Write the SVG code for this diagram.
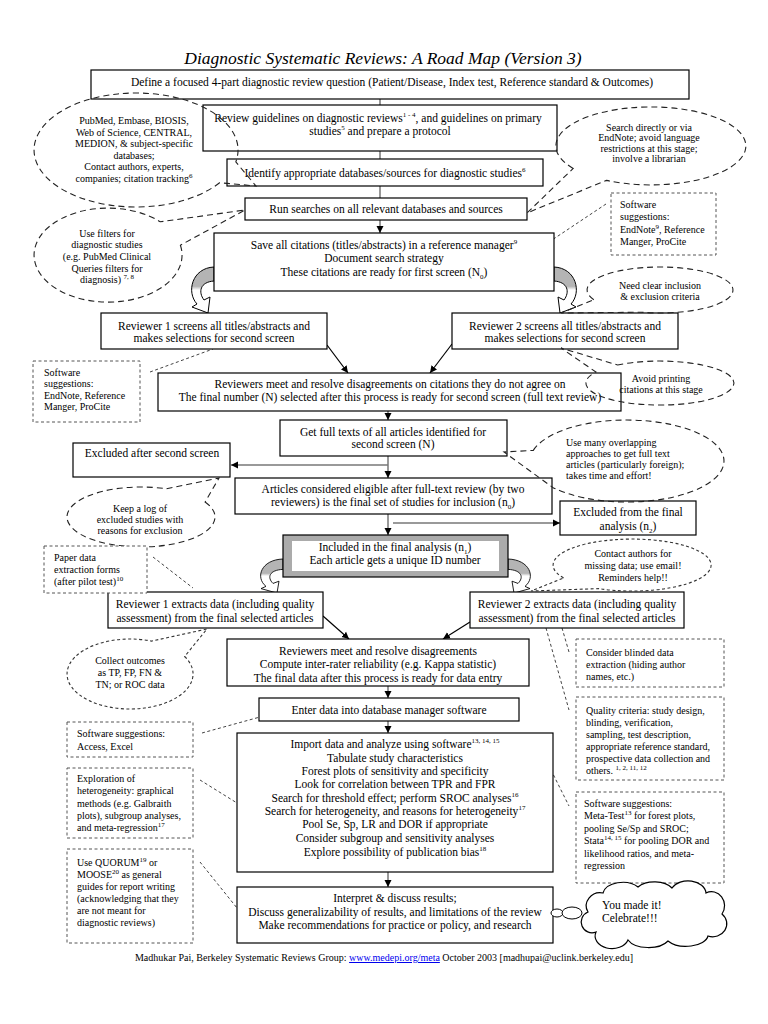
<svg xmlns="http://www.w3.org/2000/svg" width="768" height="1024" viewBox="0 0 768 1024">
<style>
text{font-family:"Liberation Serif","Times New Roman",serif;fill:#000}
.t{font-size:11.5px;text-anchor:middle}
.s{font-size:10px;text-anchor:middle}
.sl{font-size:10px;text-anchor:start}
.box{fill:#fff;stroke:#000;stroke-width:1.2}
.co{fill:none;stroke:#222;stroke-width:1.1;stroke-dasharray:6 4}
.cod{fill:none;stroke:#333;stroke-width:1.1;stroke-dasharray:3 2.5}
.db{fill:#fff;stroke:#555;stroke-width:1;stroke-dasharray:3 2.5}
.dl{fill:none;stroke:#444;stroke-width:1;stroke-dasharray:3 2.5}
.cn{fill:none;stroke:#777;stroke-width:1.5}
.cb{fill:none;stroke:#000;stroke-width:1.2}
.sup{font-size:7px}
</style>
<defs>
<marker id="ah" markerWidth="8" markerHeight="8" refX="7" refY="4" orient="auto" markerUnits="userSpaceOnUse"><path d="M0,0.5 L7,4 L0,7.5 z" fill="#000"/></marker>
<linearGradient id="curlg" x1="0" y1="0" x2="0" y2="1"><stop offset="0" stop-color="#b4b4b4"/><stop offset="0.42" stop-color="#b4b4b4"/><stop offset="0.5" stop-color="#fff"/><stop offset="1" stop-color="#fff"/></linearGradient>
<path id="curl" d="M0 0 C-22 1 -28 25 -17 37 L-22 40 L-6 46 L-4 30 L-10 33 C-16 25 -14 15 0 14 Z" fill="url(#curlg)" stroke="#000" stroke-width="1"/>
</defs>
<rect width="768" height="1024" fill="#fff"/>
<text x="383" y="64" font-size="17.5" font-style="italic" text-anchor="middle">Diagnostic Systematic Reviews: A Road Map (Version 3)</text>

<g id="connectors">
<path class="cn" d="M380 99 V105 M380 151 V159 M380 186 V198"/>
<path class="cn" d="M380 220 V233" marker-end="url(#ah)"/>
<path class="cb" d="M327 345 L348 373" marker-end="url(#ah)"/>
<path class="cb" d="M452 344 L430 373" marker-end="url(#ah)"/>
<path class="cn" d="M388 411 V420" marker-end="url(#ah)"/>
<path class="cn" d="M388 456 V478" marker-end="url(#ah)"/>
<path class="cn" d="M388 465 H231" marker-end="url(#ah)"/>
<path class="cn" d="M388 514 V535" marker-end="url(#ah)"/>
<path class="cn" d="M393 523 H560" marker-end="url(#ah)"/>
<path class="cb" d="M323 616 L349 639" marker-end="url(#ah)"/>
<path class="cb" d="M470 622 L443 639" marker-end="url(#ah)"/>
<path class="cn" d="M388 686 V698" marker-end="url(#ah)"/>
<path class="cn" d="M388 721 V733" marker-end="url(#ah)"/>
<path class="cn" d="M388 872 V887" marker-end="url(#ah)"/>
<use href="#curl" transform="translate(214,267)"/>
<use href="#curl" transform="translate(554,267) scale(-1,1)"/>
<use href="#curl" transform="translate(283,559) scale(1,0.74)"/>
<use href="#curl" transform="translate(508,559) scale(-1,0.74)"/>
<path class="dl" d="M606 204 L528 256"/>
<path class="dl" d="M150 372 L213 349"/>
<path class="dl" d="M153 557 L193 588"/>
<path class="dl" d="M562 628 L569 652"/>
<path class="dl" d="M546 628 L569 710"/>
<path class="dl" d="M202 733 L260 717"/>
<path class="dl" d="M200 780 L237 803"/>
<path class="dl" d="M200 862 L237 908"/>
<path class="dl" d="M551 770 L569 806"/>
</g>

<g id="n-define"><rect class="box" x="91" y="70" width="598" height="29"/>
<text class="t" x="392" y="86">Define a focused 4-part diagnostic review question (Patient/Disease, Index test, Reference standard &amp; Outcomes)</text></g>

<g id="n-guidelines"><rect class="box" x="203" y="105" width="354" height="46"/>
<text class="t" x="378" y="122">Review guidelines on diagnostic reviews<tspan class="sup" dy="-5">1 - 4</tspan><tspan dy="5">, and guidelines on primary</tspan></text>
<text class="t" x="380" y="135">studies<tspan class="sup" dy="-5">5</tspan><tspan dy="5"> and prepare a protocol</tspan></text></g>

<g id="n-identify"><rect class="box" x="227" y="159" width="316" height="27"/>
<text class="t" x="385" y="177">Identify appropriate databases/sources for diagnostic studies<tspan class="sup" dy="-5">6</tspan></text></g>

<g id="n-run"><rect class="box" x="245" y="198" width="282" height="22"/>
<text class="t" x="386" y="213">Run searches on all relevant databases and sources</text></g>

<g id="n-save"><rect class="box" x="214" y="233" width="340" height="58"/>
<text class="t" x="384" y="249">Save all citations (titles/abstracts) in a reference manager<tspan class="sup" dy="-5">9</tspan></text>
<text class="t" x="384" y="262">Document search strategy</text>
<text class="t" x="384" y="276">These citations are ready for first screen (N<tspan class="sup" dy="3">0</tspan><tspan dy="-3">)</tspan></text></g>

<g id="n-rev1screen"><rect class="box" x="101" y="313" width="226" height="36"/>
<text class="t" x="214" y="330">Reviewer 1 screens all titles/abstracts and</text>
<text class="t" x="214" y="342">makes selections for second screen</text></g>

<g id="n-rev2screen"><rect class="box" x="452" y="313" width="226" height="36"/>
<text class="t" x="565" y="330">Reviewer 2 screens all titles/abstracts and</text>
<text class="t" x="565" y="342">makes selections for second screen</text></g>

<g id="n-meet1"><rect class="box" x="158" y="373" width="463" height="38"/>
<text class="t" x="390" y="388">Reviewers meet and resolve disagreements on citations they do not agree on</text>
<text class="t" x="390" y="401">The final number (N) selected after this process is ready for second screen (full text review)</text></g>

<g id="n-fulltext"><rect class="box" x="280" y="420" width="227" height="36"/>
<text class="t" x="393" y="436">Get full texts of all articles identified for</text>
<text class="t" x="393" y="448">second screen (N)</text></g>

<g id="n-excluded2"><rect class="box" x="73" y="443" width="157" height="34"/>
<text class="t" x="152" y="457">Excluded after second screen</text></g>

<g id="n-eligible"><rect class="box" x="235" y="478" width="317" height="36"/>
<text class="t" x="393" y="493">Articles considered eligible after full-text review (by two</text>
<text class="t" x="393" y="506">reviewers) is the final set of studies for inclusion (n<tspan class="sup" dy="3">0</tspan><tspan dy="-3">)</tspan></text></g>

<g id="n-excludedfinal"><rect class="box" x="560" y="501" width="136" height="34"/>
<text class="t" x="628" y="516">Excluded from the final</text>
<text class="t" x="628" y="530">analysis (n<tspan class="sup" dy="3">2</tspan><tspan dy="-3">)</tspan></text></g>

<g id="n-included"><rect x="283" y="535" width="225" height="42" fill="#ababab" stroke="#000" stroke-width="1.2"/>
<rect x="292" y="541" width="207" height="30" fill="#fff"/>
<text class="t" x="395" y="551">Included in the final analysis (n<tspan class="sup" dy="3">1</tspan><tspan dy="-3">)</tspan></text>
<text class="t" x="395" y="564">Each article gets a unique ID number</text></g>

<g id="n-rev1extract"><rect class="box" x="108" y="592" width="215" height="36"/>
<text class="t" x="215" y="608">Reviewer 1 extracts data (including quality</text>
<text class="t" x="215" y="622">assessment) from the final selected articles</text></g>

<g id="n-rev2extract"><rect class="box" x="470" y="592" width="214" height="36"/>
<text class="t" x="577" y="608">Reviewer 2 extracts data (including quality</text>
<text class="t" x="577" y="622">assessment) from the final selected articles</text></g>

<g id="n-meet2"><rect class="box" x="227" y="639" width="302" height="47"/>
<text class="t" x="378" y="655">Reviewers meet and resolve disagreements</text>
<text class="t" x="378" y="668">Compute inter-rater reliability (e.g. Kappa statistic)</text>
<text class="t" x="378" y="682">The final data after this process is ready for data entry</text></g>

<g id="n-enter"><rect class="box" x="259" y="698" width="260" height="23"/>
<text class="t" x="389" y="714">Enter data into database manager software</text></g>

<g id="n-analyze"><rect class="box" x="237" y="733" width="316" height="139"/>
<text class="t" x="395" y="748">Import data and analyze using software<tspan class="sup" dy="-5">13, 14, 15</tspan></text>
<text class="t" x="395" y="762">Tabulate study characteristics</text>
<text class="t" x="395" y="775">Forest plots of sensitivity and specificity</text>
<text class="t" x="395" y="788">Look for correlation between TPR and FPR</text>
<text class="t" x="395" y="802">Search for threshold effect; perform SROC analyses<tspan class="sup" dy="-5">16</tspan></text>
<text class="t" x="395" y="815">Search for heterogeneity, and reasons for heterogeneity<tspan class="sup" dy="-5">17</tspan></text>
<text class="t" x="395" y="828">Pool Se, Sp, LR and DOR if appropriate</text>
<text class="t" x="395" y="842">Consider subgroup and sensitivity analyses</text>
<text class="t" x="395" y="856">Explore possibility of publication bias<tspan class="sup" dy="-5">18</tspan></text></g>

<g id="n-interpret"><rect class="box" x="237" y="887" width="316" height="56"/>
<text class="t" x="395" y="902">Interpret &amp; discuss results;</text>
<text class="t" x="395" y="916">Discuss generalizability of results, and limitations of the review</text>
<text class="t" x="395" y="929">Make recommendations for practice or policy, and research</text></g>

<g id="c-databases"><path class="co" d="M219.6 182.7 A102 57 0 1 1 235.8 161.9 L256 186 Z"/>
<text class="s" x="134" y="124">PubMed, Embase, BIOSIS,</text>
<text class="s" x="134" y="135.5">Web of Science, CENTRAL,</text>
<text class="s" x="134" y="147">MEDION, &amp; subject-specific</text>
<text class="s" x="134" y="158.5">databases;</text>
<text class="s" x="134" y="170">Contact authors, experts,</text>
<text class="s" x="134" y="181.5">companies; citation tracking<tspan class="sup" dy="-4">6</tspan></text></g>

<g id="c-search"><path class="co" d="M573.2 168.4 A95 39 0 1 1 606.4 180.4 L527 213 Z"/>
<text class="s" x="649" y="130.5">Search directly or via</text>
<text class="s" x="649" y="141">EndNote; avoid language</text>
<text class="s" x="649" y="151.5">restrictions at this stage;</text>
<text class="s" x="649" y="162">involve a librarian</text></g>

<g id="c-filters"><path class="co" d="M180.4 245.2 A74 47 0 1 1 160.3 221.8 L245 210 Z"/>
<text class="s" x="107" y="236.5">Use filters for</text>
<text class="s" x="107" y="248">diagnostic studies</text>
<text class="s" x="107" y="260">(e.g. PubMed Clinical</text>
<text class="s" x="107" y="271.5">Queries filters for</text>
<text class="s" x="107" y="283">diagnosis) <tspan class="sup" dy="-4">7, 8</tspan></text></g>

<g id="s-software1"><rect class="db" x="611" y="193" width="105" height="62"/>
<text class="sl" x="620" y="207.5">Software</text>
<text class="sl" x="620" y="220">suggestions:</text>
<text class="sl" x="620" y="232.5">EndNote<tspan class="sup" dy="-4">9</tspan><tspan dy="4">, Reference</tspan></text>
<text class="sl" x="620" y="244.5">Manger, ProCite</text></g>

<g id="c-criteria"><path class="co" d="M593.8 299.7 A73 23 0 1 1 641.1 312.2 L561 313 Z"/>
<text class="s" x="660" y="288.5">Need clear inclusion</text>
<text class="s" x="660" y="299.5">&amp; exclusion criteria</text></g>

<g id="s-software2"><rect class="db" x="33" y="361" width="107" height="61"/>
<text class="sl" x="44" y="375.5">Software</text>
<text class="sl" x="44" y="387">suggestions:</text>
<text class="sl" x="44" y="398.5">EndNote, Reference</text>
<text class="sl" x="44" y="410">Manger, ProCite</text></g>

<g id="c-printing"><path class="co" d="M617.6 365 A74 22 0 1 1 595.9 372 L561 348 Z"/>
<text class="s" x="661" y="381.5">Avoid printing</text>
<text class="s" x="661" y="392.5">citations at this stage</text></g>

<g id="c-overlapping"><path class="co" d="M533.3 450.4 A97 41 0 1 1 552.7 487.4 L504 452 Z"/>
<text class="sl" x="566" y="445.5">Use many overlapping</text>
<text class="sl" x="566" y="456.5">approaches to get full text</text>
<text class="sl" x="566" y="467.5">articles (particularly foreign);</text>
<text class="sl" x="566" y="479">takes time and effort!</text></g>

<g id="c-log"><path class="co" d="M205.1 502 A74 30 0 1 1 166.3 488.8 L219 478 Z"/>
<text class="s" x="140" y="511.5">Keep a log of</text>
<text class="s" x="140" y="522.5">excluded studies with</text>
<text class="s" x="140" y="534">reasons for exclusion</text></g>

<g id="s-paper"><rect class="db" x="44" y="546" width="103" height="47"/>
<text class="sl" x="54" y="560.5">Paper data</text>
<text class="sl" x="54" y="572.5">extraction forms</text>
<text class="sl" x="54" y="584.5">(after pilot test)<tspan class="sup" dy="-4">10</tspan></text></g>

<g id="c-contact"><path class="cod" d="M563.6 578 A79 26 0 1 1 598.6 588.6 L531 591 Z"/>
<text class="s" x="633" y="556.5">Contact authors for</text>
<text class="s" x="633" y="568.5">missing data; use email!</text>
<text class="s" x="633" y="580.5">Reminders help!!</text></g>

<g id="c-outcomes"><path class="cod" d="M184.6 656.5 A63 35 0 1 1 151.5 641.1 L207 629 Z"/>
<text class="s" x="130" y="663.5">Collect outcomes</text>
<text class="s" x="130" y="675.5">as TP, FP, FN &amp;</text>
<text class="s" x="130" y="687.5">TN; or ROC data</text></g>

<g id="s-access"><rect class="db" x="67" y="722" width="126" height="35"/>
<text class="sl" x="77" y="736.5">Software suggestions:</text>
<text class="sl" x="77" y="749.5">Access, Excel</text></g>

<g id="s-heterogeneity"><rect class="db" x="67" y="768" width="126" height="70"/>
<text class="sl" x="77" y="781.5">Exploration of</text>
<text class="sl" x="77" y="794">heterogeneity: graphical</text>
<text class="sl" x="77" y="806.5">methods (e.g. Galbraith</text>
<text class="sl" x="77" y="818.5">plots), subgroup analyses,</text>
<text class="sl" x="77" y="831">and meta-regression<tspan class="sup" dy="-4">17</tspan></text></g>

<g id="s-quorum"><rect class="db" x="67" y="849" width="126" height="94"/>
<text class="sl" x="77" y="865.5">Use QUORUM<tspan class="sup" dy="-4">19</tspan><tspan dy="4"> or</tspan></text>
<text class="sl" x="77" y="877.5">MOOSE<tspan class="sup" dy="-4">20</tspan><tspan dy="4"> as general</tspan></text>
<text class="sl" x="77" y="889.5">guides for report writing</text>
<text class="sl" x="77" y="901.5">(acknowledging that they</text>
<text class="sl" x="77" y="913.5">are not meant for</text>
<text class="sl" x="77" y="925.5">diagnostic reviews)</text></g>

<g id="s-blinded"><rect class="db" x="576" y="639" width="148" height="48"/>
<text class="sl" x="586" y="655.5">Consider blinded data</text>
<text class="sl" x="586" y="667.5">extraction (hiding author</text>
<text class="sl" x="586" y="680">names, etc.)</text></g>

<g id="s-quality"><rect class="db" x="576" y="697" width="148" height="83"/>
<text class="sl" x="586" y="713.5">Quality criteria: study design,</text>
<text class="sl" x="586" y="725.5">blinding, verification,</text>
<text class="sl" x="586" y="737.5">sampling, test description,</text>
<text class="sl" x="586" y="749.5">appropriate reference standard,</text>
<text class="sl" x="586" y="761.5">prospective data collection and</text>
<text class="sl" x="586" y="773.5">others. <tspan class="sup" dy="-4">1, 2, 11, 12</tspan></text></g>

<g id="s-metatest"><rect class="db" x="576" y="792" width="148" height="91"/>
<text class="sl" x="584" y="806.5">Software suggestions:</text>
<text class="sl" x="584" y="819">Meta-Test<tspan class="sup" dy="-4">13</tspan><tspan dy="4"> for forest plots,</tspan></text>
<text class="sl" x="584" y="831.5">pooling Se/Sp and SROC;</text>
<text class="sl" x="584" y="844">Stata<tspan class="sup" dy="-4">14, 15</tspan><tspan dy="4"> for pooling DOR and</tspan></text>
<text class="sl" x="584" y="856.5">likelihood ratios, and meta-</text>
<text class="sl" x="584" y="869">regression</text></g>

<g id="c-celebrate">
<ellipse cx="557" cy="913" rx="6" ry="4" fill="#fff" stroke="#000" stroke-width="1"/>
<ellipse cx="572" cy="913" rx="10" ry="6" fill="#fff" stroke="#000" stroke-width="1"/>
<path d="M588 912 A14 13 0 0 1 603 893 A20 13 0 0 1 638 887 A20 12 0 0 1 672 888 A18 13 0 0 1 706 893 A13 14 0 0 1 722 914 A14 13 0 0 1 708 936 A22 12 0 0 1 668 941 A22 12 0 0 1 628 940 A16 12 0 0 1 596 932 A10 10 0 0 1 588 912 Z" fill="#fff" stroke="#000" stroke-width="1.2"/>
<text x="602" y="909" font-size="11.5">You made it!</text>
<text x="602" y="922" font-size="11.5">Celebrate!!!</text></g>

<text x="384" y="961" font-size="10" text-anchor="middle">Madhukar Pai, Berkeley Systematic Reviews Group: <tspan fill="#00e" text-decoration="underline">www.medepi.org/meta</tspan>  October 2003 [madhupai@uclink.berkeley.edu]</text>
</svg>
